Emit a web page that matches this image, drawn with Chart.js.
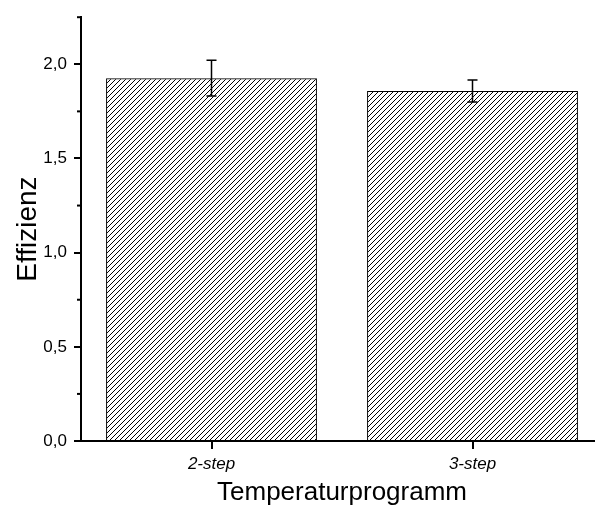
<!DOCTYPE html>
<html lang="de">
  <head>
    <meta charset="UTF-8" />
    <title>Effizienz</title>
    <script src="https://cdn.jsdelivr.net/npm/chart.js@4"></script>
    <style>
      body { margin: 0; overflow: hidden; background: #fff; }
    </style>
  </head>
  <body>
    <canvas id="Graph" width="603" height="511"></canvas>

    <script>
      const programs = ['2-step', '3-step'];
      const efficiency = [1.926, 1.858];
      const errors = [0.095, 0.058];

      // hatch tile "/"
      function hatch() {
        const n = 5;
        const t = document.createElement('canvas');
        t.width = n;
        t.height = n;
        const c = t.getContext('2d');
        c.strokeStyle = '#000';
        c.lineWidth = 1;
        c.beginPath();
        c.moveTo(0, n); c.lineTo(n, 0);
        c.moveTo(-1, 1); c.lineTo(1, -1);
        c.moveTo(n - 1, n + 1); c.lineTo(n + 1, n - 1);
        c.stroke();
        return c.createPattern(t, 'repeat');
      }

      const errorBars = {
        id: 'errorBars',
        afterDatasetsDraw(chart) {
          const ctx = chart.ctx;
          const y = chart.scales.y;
          ctx.save();
          ctx.strokeStyle = '#000';
          ctx.lineWidth = 1.5;
          chart.getDatasetMeta(0).data.forEach((bar, i) => {
            const top = y.getPixelForValue(efficiency[i] + errors[i]);
            const bot = y.getPixelForValue(efficiency[i] - errors[i]);
            ctx.beginPath();
            ctx.moveTo(bar.x, top); ctx.lineTo(bar.x, bot);
            ctx.moveTo(bar.x - 5, top); ctx.lineTo(bar.x + 5, top);
            ctx.moveTo(bar.x - 5, bot); ctx.lineTo(bar.x + 5, bot);
            ctx.stroke();
          });
          ctx.restore();
        }
      };

      const minorTicks = {
        id: 'minorTicks',
        afterDraw(chart) {
          const ctx = chart.ctx;
          const y = chart.scales.y;
          ctx.save();
          ctx.strokeStyle = '#000';
          ctx.lineWidth = 2;
          y.ticks.forEach(t => {
            if (t.value % 0.5 !== 0) {
              const py = y.getPixelForValue(t.value);
              ctx.beginPath();
              ctx.moveTo(y.right - 4, py);
              ctx.lineTo(y.right, py);
              ctx.stroke();
            }
          });
          ctx.restore();
        }
      };

      new Chart(document.getElementById('Graph').getContext('2d'), {
        type: 'bar',
        data: {
          labels: programs,
          datasets: [{
            data: efficiency,
            backgroundColor: hatch(),
            borderColor: '#000',
            borderWidth: 1,
            barPercentage: 0.808,
            categoryPercentage: 1
          }]
        },
        options: {
          responsive: false,
          animation: false,
          layout: { padding: { top: 14 } },
          plugins: { legend: { display: false }, tooltip: { enabled: false } },
          scales: {
            x: {
              afterFit(s) { s.height = 70; },
              border: { color: '#000', width: 2 },
              grid: {
                offset: false,
                drawOnChartArea: false,
                color: '#000',
                lineWidth: 2,
                tickLength: 8
              },
              ticks: {
                color: '#000',
                padding: 5,
                font: { family: 'Liberation Sans', size: 17, style: 'italic' }
              },
              title: {
                display: true,
                text: 'Temperaturprogramm',
                color: '#000',
                padding: { top: 0, bottom: 3 },
                font: { family: 'Liberation Sans', size: 26 }
              }
            },
            y: {
              min: 0,
              max: 2.25,
              afterFit(s) { s.width = 81; },
              border: { color: '#000', width: 2 },
              grid: {
                drawOnChartArea: false,
                lineWidth: 2,
                tickLength: 7,
                tickColor: c => (c.tick && c.tick.value % 0.5 === 0 ? '#000' : 'rgba(0,0,0,0)')
              },
              ticks: {
                stepSize: 0.25,
                color: '#000',
                padding: 7,
                font: { family: 'Liberation Sans', size: 17 },
                callback: v => (v % 0.5 === 0 ? v.toFixed(1).replace('.', ',') : '')
              },
              title: {
                display: true,
                text: 'Effizienz',
                color: '#000',
                padding: { top: 11, bottom: 0 },
                font: { family: 'Liberation Sans', size: 28 }
              }
            }
          }
        },
        plugins: [errorBars, minorTicks]
      });
    </script>
  </body>
</html>
